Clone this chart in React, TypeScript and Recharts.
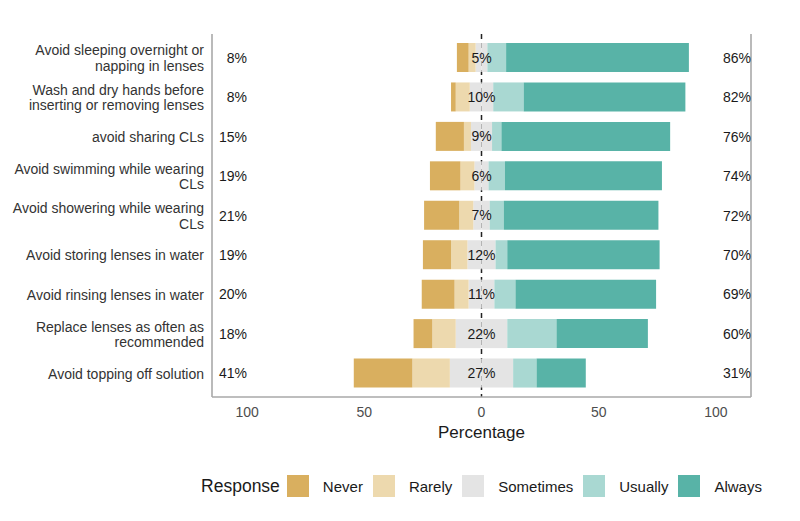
import React from "react";
import { Bar, BarChart, CartesianGrid, LabelList, Label, Legend, XAxis, YAxis } from "recharts";

const FONT = "'Liberation Sans', Arial, sans-serif";

const categories = [
  "Avoid sleeping overnight or\nnapping in lenses",
  "Wash and dry hands before\ninserting or removing lenses",
  "avoid sharing CLs",
  "Avoid swimming while wearing\nCLs",
  "Avoid showering while wearing\nCLs",
  "Avoid storing lenses in water",
  "Avoid rinsing lenses in water",
  "Replace lenses as often as\nrecommended",
  "Avoid topping off solution",
];

const never = [5, 2, 12, 13, 15, 12, 14, 8, 25];
const rarely = [3, 6, 3, 6, 6, 7, 6, 10, 16];
const sometimes = [5, 10, 9, 6, 7, 12, 11, 22, 27];
const usually = [8, 13, 4, 7, 6, 5, 9, 21, 10];
const always = [78, 69, 72, 67, 66, 65, 60, 39, 21];

const lowPct = [8, 8, 15, 19, 21, 19, 20, 18, 41];
const midPct = [5, 10, 9, 6, 7, 12, 11, 22, 27];
const highPct = [86, 82, 76, 74, 72, 70, 69, 60, 31];

const xTicks = [-100, -50, 0, 50, 100];

const responses = ["Never", "Rarely", "Sometimes", "Usually", "Always"];
const colors = ["#D9AF5F", "#EDD9AE", "#E4E4E4", "#A9D8D2", "#58B3A7"];

const data = categories.map((item, i) => ({
  item,
  someL: -sometimes[i] / 2,
  rarely: -rarely[i],
  never: -never[i],
  someR: sometimes[i] / 2,
  usually: usually[i],
  always: always[i],
}));

const BORDER = "#a9a9a9";

function CategoryTick({ x, y, payload }: any) {
  const lines = String(payload.value).split("\n");
  const lh = 15.5;
  return (
    <text x={x} y={y} textAnchor="end" fontFamily={FONT} fontSize={14} fill="#333">
      {lines.map((l, i) => (
        <tspan key={i} x={x} dy={i === 0 ? -((lines.length - 1) * lh) / 2 + 5.5 : lh}>
          {l}
        </tspan>
      ))}
    </text>
  );
}

function pctTick(values: number[]) {
  return ({ x, y, payload }: any) => {
    const i = categories.indexOf(payload.value);
    return (
      <text x={x} y={y} dy={5} textAnchor="end" fontFamily={FONT} fontSize={14} fill="#1a1a1a">
        {values[i]}%
      </text>
    );
  };
}

function MidLabel(props: any) {
  const { x, y, height, index } = props;
  return (
    <text x={x} y={y + height / 2} dy={5} textAnchor="middle" fontFamily={FONT} fontSize={14} fill="#1a1a1a">
      {midPct[index]}%
    </text>
  );
}

function LegendBox() {
  return (
    <div
      style={{
        height: 36,
        display: "flex",
        alignItems: "center",
        justifyContent: "center",
        fontFamily: FONT,
        color: "#1a1a1a",
      }}
    >
      <span style={{ fontSize: 17.5, marginRight: 7 }}>Response</span>
      {responses.map((r, i) => (
        <span key={r} style={{ display: "flex", alignItems: "center", marginLeft: i === 0 ? 0 : 10 }}>
          <span style={{ width: 22, height: 22, background: colors[i], marginRight: 14 }} />
          <span style={{ fontSize: 15 }}>{r}</span>
        </span>
      ))}
    </div>
  );
}

export default function App() {
  return (
    <div style={{ position: "absolute", left: 0, top: 0, width: 800, height: 521, background: "#fff" }}>
      <BarChart
        width={800}
        height={521}
        data={data}
        layout="vertical"
        stackOffset="sign"
        barCategoryGap={5}
        margin={{ top: 34, right: 49, bottom: 17, left: 0 }}
      >
        <CartesianGrid
          xAxisId="main"
          yAxisId="cat"
          horizontal={false}
          verticalValues={[0]}
          stroke="#222"
          strokeWidth={1.5}
          strokeDasharray="5 4"
        />
        <XAxis
          xAxisId="main"
          type="number"
          domain={[-115, 115]}
          ticks={xTicks}
          tickFormatter={(v: number) => String(Math.abs(v))}
          height={71}
          tickLine={false}
          tickSize={0}
          tickMargin={10}
          axisLine={{ stroke: BORDER, strokeWidth: 1.6 }}
          tick={{ fontFamily: FONT, fontSize: 14, fill: "#4d4d4d" }}
        >
          <Label
            value="Percentage"
            position="insideTop"
            offset={29}
            style={{ fontFamily: FONT, fontSize: 17, fill: "#1a1a1a" }}
          />
        </XAxis>
        <XAxis
          xAxisId="top"
          orientation="top"
          type="number"
          domain={[-115, 115]}
          height={0}
          tick={false}
          tickLine={false}
          axisLine={{ stroke: BORDER, strokeWidth: 1.6 }}
        />
        <YAxis
          yAxisId="cat"
          type="category"
          dataKey="item"
          width={212}
          padding={{ top: 4, bottom: 4 }}
          tickLine={false}
          tickSize={0}
          tickMargin={8}
          axisLine={{ stroke: BORDER, strokeWidth: 1.6 }}
          tick={<CategoryTick />}
          interval={0}
        />
        <YAxis
          yAxisId="low"
          type="category"
          dataKey="item"
          orientation="left"
          mirror
          width={40}
          padding={{ top: 4, bottom: 4 }}
          tickLine={false}
          tickSize={0}
          tickMargin={35}
          axisLine={false}
          tick={pctTick(lowPct)}
          interval={0}
        />
        <YAxis
          yAxisId="high"
          type="category"
          dataKey="item"
          orientation="right"
          mirror
          width={40}
          padding={{ top: 4, bottom: 4 }}
          tickLine={false}
          tickSize={0}
          tickMargin={0}
          axisLine={{ stroke: BORDER, strokeWidth: 1.6 }}
          tick={pctTick(highPct)}
          interval={0}
        />
        <Bar xAxisId="main" yAxisId="cat" dataKey="someL" stackId="s" fill={colors[2]} isAnimationActive={false} />
        <Bar xAxisId="main" yAxisId="cat" dataKey="rarely" stackId="s" fill={colors[1]} isAnimationActive={false} />
        <Bar xAxisId="main" yAxisId="cat" dataKey="never" stackId="s" fill={colors[0]} isAnimationActive={false} />
        <Bar xAxisId="main" yAxisId="cat" dataKey="someR" stackId="s" fill={colors[2]} isAnimationActive={false}>
          <LabelList dataKey="someR" content={<MidLabel />} />
        </Bar>
        <Bar xAxisId="main" yAxisId="cat" dataKey="usually" stackId="s" fill={colors[3]} isAnimationActive={false} />
        <Bar xAxisId="main" yAxisId="cat" dataKey="always" stackId="s" fill={colors[4]} isAnimationActive={false} />
        <Legend verticalAlign="bottom" content={<LegendBox />} wrapperStyle={{ left: 212, width: 539 }} />
      </BarChart>
    </div>
  );
}
